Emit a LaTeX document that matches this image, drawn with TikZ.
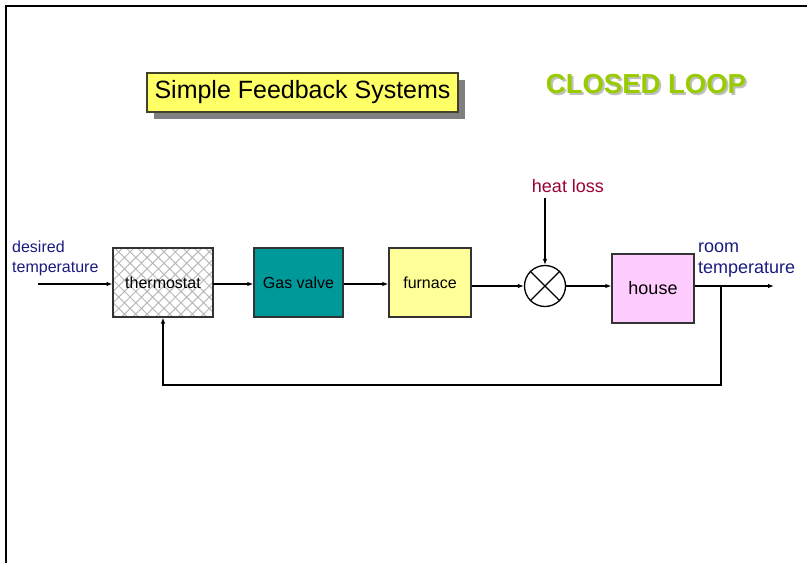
\documentclass[tikz,border=0pt]{standalone}
\usepackage{fontspec}
\setmainfont{Liberation Sans}
\usepackage{tikz}
\usetikzlibrary{arrows.meta,calc,positioning,shapes.geometric,patterns.meta,shadows}
\definecolor{fbnavy}{RGB}{26,26,128}
\definecolor{fbred}{RGB}{153,0,51}
\definecolor{fbteal}{RGB}{0,153,153}
\definecolor{fbyellow}{RGB}{255,255,153}
\definecolor{fbtitle}{RGB}{255,255,102}
\definecolor{fbpink}{RGB}{255,204,255}
\definecolor{fblime}{RGB}{153,204,0}
\definecolor{fbedge}{RGB}{51,51,51}

\begin{document}
\begin{tikzpicture}[x=1pt,y=-1pt,>={Latex[length=6pt,width=4.5pt]},
    block/.style={draw=fbedge,line width=1.4pt,inner sep=0pt,minimum height=69pt,
      font=\fontsize{16}{19}\selectfont},
    sig/.style={->,line width=1.1pt},
    lbl/.style={align=left,inner sep=0pt,text=fbnavy}]
  \useasboundingbox (0,0) rectangle (807,563);
  % frame
  \draw[line width=2pt] (6,563) -- (6,6) -- (807,6);

  % heading
  \node[draw=fbedge!80!olive,line width=1.2pt,fill=fbtitle,minimum width=311pt,minimum height=39pt,
    inner sep=0pt,font=\fontsize{25}{28}\selectfont,
    drop shadow={shadow xshift=7pt,shadow yshift=-7pt,fill=gray,opacity=1}]
    (title) at (302.5,92.5) {Simple Feedback Systems};
  \node[text=fblime,font=\fontsize{27.5}{30}\selectfont\bfseries] (loop) at (646,85)
    {\makebox[0pt][l]{\hspace{2pt}\raisebox{-2pt}{\textcolor{black!25}{CLOSED LOOP}}}CLOSED LOOP};

  % blocks
  \node[block,minimum width=100pt,pattern={Hatch[angle=45,distance=8pt,line width=1pt]},
    pattern color=gray!55] (thermo) at (163,282.5) {};
  \node[font=\fontsize{16}{19}\selectfont] (thermotext) at (thermo) {thermostat};
  \node[block,minimum width=89pt,fill=fbteal] (valve) at (298.5,282.5) {Gas valve};
  \node[block,minimum width=82pt,fill=fbyellow] (furnace) at (430,282.5) {furnace};
  \node[circle,draw,line width=1.3pt,minimum size=41pt,inner sep=0pt] (sum) at (545,286) {};
  \draw[line width=1.3pt] (sum.north west) -- (sum.south east) (sum.north east) -- (sum.south west);
  \node[block,minimum width=82pt,fill=fbpink,font=\fontsize{18}{21}\selectfont] (house) at (653,288.5) {house};

  % labels
  \node[lbl,anchor=north west,font=\fontsize{16}{20}\selectfont] (desired) at (12,241) {desired\\temperature};
  \node[lbl,anchor=north west,font=\fontsize{18}{21}\selectfont] (room) at (698,243) {room\\temperature};
  \node[text=fbred,font=\fontsize{18}{21}\selectfont] (loss) at (568,186) {heat loss};

  % signal path
  \coordinate (in) at (38,284);
  \coordinate (out) at (774,286);
  \coordinate (tap) at (721,286);
  \coordinate (fb) at (721,385);
  \draw[sig] (in) -- (in -| thermo.west);
  \draw[sig] (thermo) ++(50,1.5) -- (valve.west |- 0,284);
  \draw[sig] (valve.east |- 0,284) -- (furnace.west |- 0,284);
  \draw[sig] (furnace.east |- 0,286) -- (sum.west);
  \draw[sig] (sum.east) -- (sum -| house.west);
  \draw[sig] (sum.north |- 0,198) -- (sum.north);
  \draw[sig] (house.east |- tap) -- (out);
  \draw[sig] (tap) -- (fb) -| (thermo.south);
\end{tikzpicture}
\end{document}
